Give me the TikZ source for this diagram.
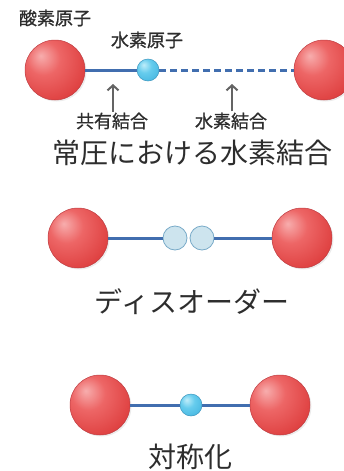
\documentclass[tikz,border=0pt]{standalone}
\usepackage{fontspec}
\setmainfont{Noto Sans CJK JP}
\newfontfamily\labelfont[FakeBold=0.8]{Noto Sans CJK JP}
\usetikzlibrary{shadows,arrows.meta}
\definecolor{bondblue}{RGB}{65,110,175}
\definecolor{hpale}{RGB}{205,228,238}
\definecolor{hedge}{RGB}{120,170,200}
\definecolor{txt}{RGB}{45,45,45}
\definecolor{arrgray}{RGB}{100,100,100}
\definecolor{oxedge}{RGB}{190,60,65}
\definecolor{hydedge}{RGB}{60,150,190}
% soft balls, lit from the upper left
\pgfdeclareradialshading{oxball}{\pgfpoint{-12bp}{12bp}}{%
  rgb(0bp)=(0.97,0.68,0.68); rgb(14bp)=(0.93,0.40,0.40);
  rgb(38bp)=(0.86,0.22,0.22); rgb(60bp)=(0.72,0.12,0.14); rgb(75bp)=(0.72,0.12,0.14)}
\pgfdeclareradialshading{hball}{\pgfpoint{-10bp}{12bp}}{%
  rgb(0bp)=(0.75,0.93,0.98); rgb(16bp)=(0.40,0.80,0.93);
  rgb(45bp)=(0.22,0.68,0.86); rgb(75bp)=(0.18,0.60,0.80)}

\begin{document}
\begin{tikzpicture}[x=1pt, y=-1pt,
    oxy/.style = {circle, minimum size=60pt, inner sep=0pt, shading=oxball, draw=oxedge, line width=0.5pt,
                  drop shadow={opacity=0.15, shadow xshift=1.5pt, shadow yshift=-1.5pt}},
    hyd/.style = {circle, minimum size=22pt, inner sep=0pt, shading=hball, draw=hydedge, line width=0.5pt},
    hhalf/.style = {circle, minimum size=24pt, inner sep=0pt, fill=hpale, draw=hedge, line width=0.8pt},
    bond/.style = {draw=bondblue, line width=3pt},
    hbond/.style = {bond, dash pattern=on 7pt off 4pt},
    arr/.style = {-{Straight Barb[length=5pt,width=11pt]}, draw=arrgray, line width=2pt},
    small/.style = {text=txt, inner sep=1pt, font=\labelfont\fontsize{18}{18}\selectfont},
    big/.style = {text=txt, font=\fontsize{28}{28}\selectfont}]
  \useasboundingbox (0,0) rectangle (344,471);
  \clip (0,0) rectangle (344,471);
  % normal pressure
  \node[oxy] (O1) at (55,70){};
  \node[oxy] (O2) at (324,70){};
  \node[hyd] (H1) at (148,70){};
  \draw[bond] (O1) -- (H1);
  \draw[hbond] (H1) -- (O2);
  \node[small] (oxlab) at (55,18){酸素原子};
  \node[small] (hlab) at (147,40){水素原子};
  \node[small] (cov) at (112,121){共有結合};
  \node[small] (hb) at (231,121){水素結合};
  \coordinate (cova) at (113,84);
  \coordinate (hba) at (232,84);
  \draw[arr] (cov.north -| cova) -- (cova);
  \draw[arr] (hb.north -| hba) -- (hba);
  \node[big] (t1) at (192,153){常圧における水素結合};
  % disorder
  \node[oxy] (O3) at (78,238){};
  \node[oxy] (O4) at (302,238){};
  \node[hhalf] (Ha) at (175,238){};
  \node[hhalf] (Hb) at (202,238){};
  \draw[bond] (O3) -- (Ha);
  \draw[bond] (Hb) -- (O4);
  \node[big] (t2) at (192,302){ディスオーダー};
  % symmetrization
  \node[oxy] (O5) at (100,405){};
  \node[oxy] (O6) at (280,405){};
  \node[hyd] (H2) at (191,405){};
  \draw[bond] (O5) -- (H2);
  \draw[bond] (H2) -- (O6);
  \node[big] (t3) at (190,457){対称化};
\end{tikzpicture}
\end{document}
